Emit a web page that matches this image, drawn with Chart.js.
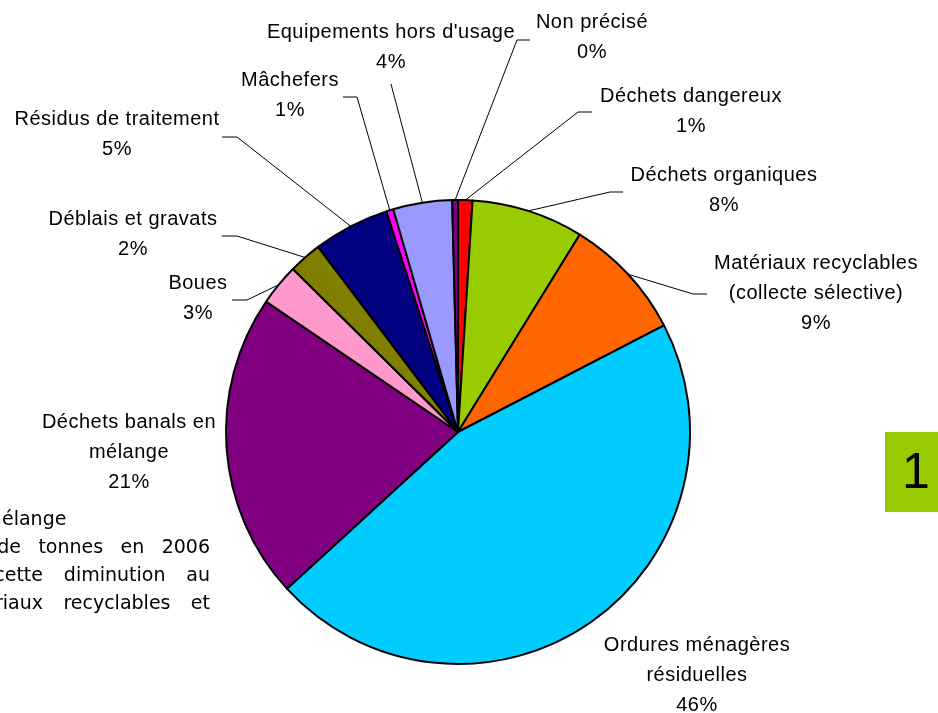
<!DOCTYPE html>
<html lang="fr">
<head>
<meta charset="utf-8">
<title>Répartition des déchets</title>
<script src="https://cdn.jsdelivr.net/npm/chart.js@4.4.0/dist/chart.umd.min.js"></script>
<style>
  html, body { margin: 0; padding: 0; background: #fff; }
  canvas { display: block; }
</style>
</head>
<body>
<canvas id="camembert" width="938" height="713"></canvas>
<script>
// Données (parts en %, dans l'ordre horaire depuis midi)
const categories = [
  'Déchets dangereux',
  'Déchets organiques',
  'Matériaux recyclables\n(collecte sélective)',
  'Ordures ménagères\nrésiduelles',
  'Déchets banals en\nmélange',
  'Boues',
  'Déblais et gravats',
  'Résidus de traitement',
  'Mâchefers',
  "Equipements hors d'usage",
  'Non précisé'
];
const valeurs = [1.0, 7.8, 8.6, 45.8, 21.3, 2.9, 2.3, 5.3, 0.5, 4.1, 0.4];
const couleurs = [
  '#ff0000', '#99cc00', '#ff6600', '#00ccff', '#800080', '#ff99cc',
  '#808000', '#000080', '#ff00ff', '#9999ff', '#800080'
];

// Texte du paragraphe caché derrière le camembert
const paragraphe = [
  ['élange'],
  ['de', 'tonnes', 'en', '2006'],
  ['cette', 'diminution', 'au'],
  ['matériaux', 'recyclables', 'et']
];

// Placement des étiquettes : centre de la 1re ligne, coude et bout du trait de rappel
const etiquettes = [
  { x: 691, y: 96,  coude: [578, 112], fin: [592, 112] },
  { x: 724, y: 175, coude: [610, 192], fin: [623, 192] },
  { x: 816, y: 263, coude: [693, 294], fin: [707, 294] },
  { x: 697, y: 645 },
  { x: 129, y: 422 },
  { x: 198, y: 283, coude: [247, 300], fin: [232, 300] },
  { x: 133, y: 219, coude: [237, 236], fin: [222, 236] },
  { x: 117, y: 119, coude: [237, 137], fin: [222, 137] },
  { x: 290, y: 80,  coude: [357, 97],  fin: [343, 97] },
  { x: 391, y: 32,  fin: [391, 84] },
  { x: 592, y: 22,  coude: [517, 40],  fin: [530, 40] }
];

const total = valeurs.reduce((a, b) => a + b, 0);

// Fond : paragraphe + encadré vert
const fondPlugin = {
  id: 'fond',
  beforeDatasetsDraw(chart) {
    const ctx = chart.ctx;
    ctx.save();
    ctx.fillStyle = '#000';
    ctx.font = '19px "Comic Sans MS", "DejaVu Sans", sans-serif';
    ctx.textBaseline = 'middle';
    const lignesY = [520, 548, 576, 604];
    const debuts = [null, 21, 43, 43]; // bord droit du premier mot
    paragraphe.forEach((mots, i) => {
      const y = lignesY[i];
      if (mots.length === 1) {
        ctx.textAlign = 'left';
        ctx.fillText(mots[0], 2, y);
        return;
      }
      // justification entre la fin du 1er mot et x = 210
      const largeurs = mots.map(m => ctx.measureText(m).width);
      const reste = largeurs.slice(1).reduce((a, b) => a + b, 0);
      const gap = (210 - debuts[i] - reste) / (mots.length - 1);
      ctx.textAlign = 'left';
      ctx.fillText(mots[0], debuts[i] - largeurs[0], y);
      let x = debuts[i] + gap;
      for (let k = 1; k < mots.length; k++) {
        ctx.fillText(mots[k], x, y);
        x += largeurs[k] + gap;
      }
    });
    ctx.restore();
  },
  afterDraw(chart) {
    const ctx = chart.ctx;
    ctx.save();
    ctx.fillStyle = '#99cc00';
    ctx.fillRect(885, 432, 53, 80);
    ctx.fillStyle = '#000';
    ctx.font = '50px "Liberation Sans", Arial, sans-serif';
    ctx.textAlign = 'center';
    ctx.textBaseline = 'middle';
    ctx.fillText('1', 916, 474);
    ctx.restore();
  }
};

// Étiquettes avec traits de rappel, accrochées au milieu de chaque part
const etiquettesPlugin = {
  id: 'etiquettes',
  afterDatasetsDraw(chart) {
    const ctx = chart.ctx;
    const arcs = chart.getDatasetMeta(0).data;
    ctx.save();
    ctx.strokeStyle = '#000';
    ctx.lineWidth = 1;
    arcs.forEach((arc, i) => {
      const e = etiquettes[i];
      const p = arc.getProps(['x', 'y', 'startAngle', 'endAngle', 'outerRadius'], true);
      const mid = (p.startAngle + p.endAngle) / 2;
      const px = p.x + Math.cos(mid) * p.outerRadius;
      const py = p.y + Math.sin(mid) * p.outerRadius;
      if (e.fin) {
        ctx.beginPath();
        ctx.moveTo(px, py);
        if (e.coude) ctx.lineTo(e.coude[0], e.coude[1]);
        ctx.lineTo(e.fin[0], e.fin[1]);
        ctx.stroke();
      }
      const lignes = categories[i].split('\n');
      lignes.push(Math.round(valeurs[i] / total * 100) + '%');
      ctx.fillStyle = '#000';
      ctx.font = '20px "Liberation Sans", Arial, sans-serif';
      ctx.letterSpacing = '0.5px';
      ctx.textAlign = 'center';
      ctx.textBaseline = 'middle';
      lignes.forEach((t, k) => ctx.fillText(t, e.x, e.y + k * 30));
    });
    ctx.restore();
  }
};

new Chart(document.getElementById('camembert'), {
  type: 'pie',
  data: {
    labels: categories,
    datasets: [{
      data: valeurs,
      backgroundColor: couleurs,
      borderColor: '#000',
      borderWidth: 2
    }]
  },
  options: {
    responsive: false,
    animation: false,
    layout: { padding: { top: 199, bottom: 48, left: 0, right: 22 } },
    plugins: {
      legend: { display: false },
      tooltip: { enabled: false }
    }
  },
  plugins: [fondPlugin, etiquettesPlugin]
});
</script>
</body>
</html>
